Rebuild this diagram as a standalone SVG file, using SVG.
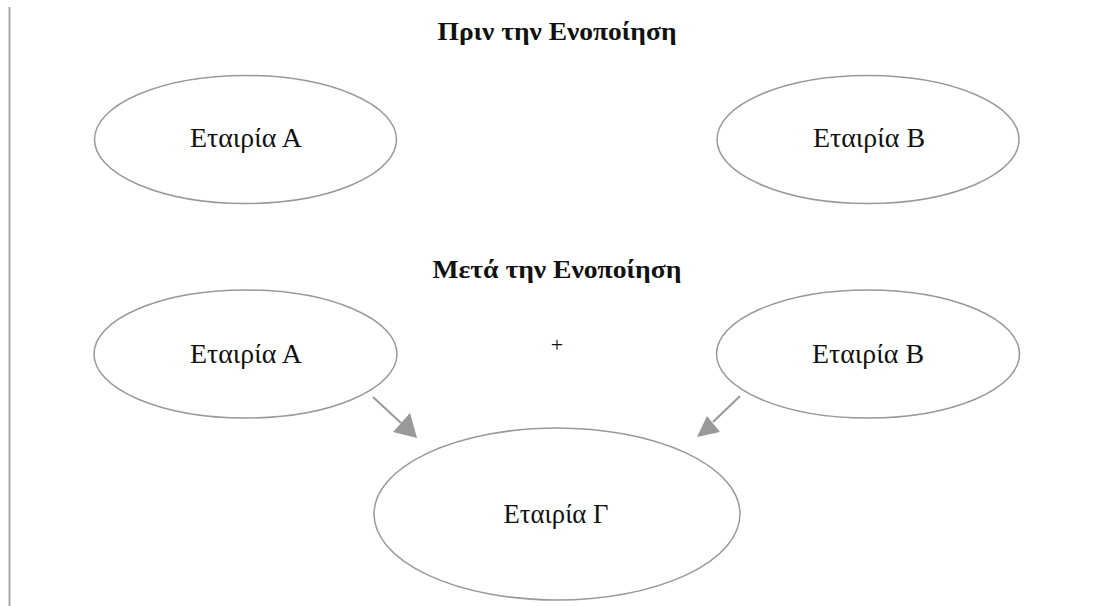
<svg xmlns="http://www.w3.org/2000/svg" width="1101" height="606" viewBox="0 0 1101 606">
<style>
.node ellipse{fill:#fff;stroke:#999;stroke-width:1.5}
.lbl{font-family:"Liberation Serif","Times New Roman",serif;font-size:27px;fill:#111;text-anchor:middle}
.plus{font-family:"Liberation Serif","Times New Roman",serif;font-size:22px;fill:#111;text-anchor:middle}
.title{font-family:"Liberation Serif","Times New Roman",serif;font-size:26px;font-weight:bold;fill:#111;text-anchor:middle}
.edge{stroke:#999;stroke-width:2;fill:none}
</style>
<rect width="1101" height="606" fill="#fff"/>
<line x1="9.5" y1="7" x2="9.5" y2="606" stroke="#aaa" stroke-width="2"/>
<text class="title" x="557" y="40" textLength="239" lengthAdjust="spacingAndGlyphs">Πριν την Ενοποίηση</text>
<text class="title" x="557" y="278" textLength="249" lengthAdjust="spacingAndGlyphs">Μετά την Ενοποίηση</text>
<text class="plus" x="557" y="352">+</text>
<g id="node-a-before" class="node">
<ellipse cx="245.5" cy="139.5" rx="151" ry="64"/>
<text class="lbl" x="246" y="147" textLength="112" lengthAdjust="spacingAndGlyphs">Εταιρία Α</text>
</g>
<g id="node-b-before" class="node">
<ellipse cx="868" cy="139.5" rx="151" ry="64"/>
<text class="lbl" x="869" y="147" textLength="112" lengthAdjust="spacingAndGlyphs">Εταιρία Β</text>
</g>
<g id="node-a-after" class="node">
<ellipse cx="245.5" cy="354" rx="151.5" ry="64"/>
<text class="lbl" x="246" y="363" textLength="112" lengthAdjust="spacingAndGlyphs">Εταιρία Α</text>
</g>
<g id="node-b-after" class="node">
<ellipse cx="868" cy="354" rx="151.5" ry="64"/>
<text class="lbl" x="868" y="363" textLength="112" lengthAdjust="spacingAndGlyphs">Εταιρία Β</text>
</g>
<g id="node-c" class="node">
<ellipse cx="557" cy="514" rx="183" ry="86"/>
<text class="lbl" x="556" y="523" textLength="105" lengthAdjust="spacingAndGlyphs">Εταιρία Γ</text>
</g>
<g id="connectors">
<path d="M373,397 L401,423" class="edge"/>
<path d="M393,432 L417,438 L410,413 Z" fill="#999"/>
<path d="M740,396 L713,422" class="edge"/>
<path d="M720,432 L697,437 L707,416 Z" fill="#999"/>
</g>
</svg>
